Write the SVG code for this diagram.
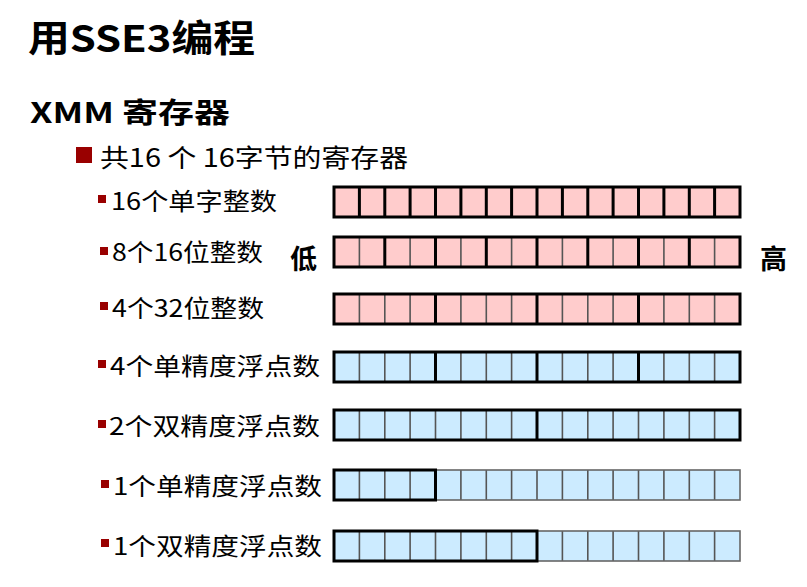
<svg xmlns="http://www.w3.org/2000/svg" xmlns:xlink="http://www.w3.org/1999/xlink" width="807" height="587" viewBox="0 0 807 587">
<style>
text{font-family:"Noto Sans CJK SC","Noto Sans",sans-serif;fill:#000}
.title{font-size:37px;font-weight:bold}
.h2{font-size:28px;font-weight:bold}
.l1{font-size:25px}
.l2{font-size:24px}
.side{font-size:27px;font-weight:bold}
.b{fill:#990000}
.pink{fill:#FFCCCC}
.blue{fill:#CCEBFF}
.thin{stroke:#555;stroke-width:1.6;fill:none}
.thick{stroke:#000;stroke-width:3;fill:none}
.border{stroke:#666;stroke-width:1.6;fill:none}
</style>
<defs>
<path id="thinLines" class="thin" d="M359.4 0v30M384.8 0v30M410.1 0v30M435.5 0v30M460.9 0v30M486.3 0v30M511.6 0v30M537 0v30M562.4 0v30M587.8 0v30M613.1 0v30M638.5 0v30M663.9 0v30M689.3 0v30M714.6 0v30"/>
</defs>
<text class="title" x="28" y="52" textLength="227" lengthAdjust="spacingAndGlyphs">用SSE3编程</text>
<text class="h2" x="30" y="123" textLength="200" lengthAdjust="spacingAndGlyphs">XMM 寄存器</text>
<rect class="b" x="76" y="147" width="16" height="16"/>
<text class="l1" x="100" y="167" textLength="308" lengthAdjust="spacingAndGlyphs">共16 个 16字节的寄存器</text>
<text class="side" x="290" y="269">低</text>
<text class="side" x="760" y="269">高</text>

<g id="row1">
<rect class="b" x="98" y="195" width="8" height="8"/>
<text class="l2" x="111" y="210" textLength="166" lengthAdjust="spacingAndGlyphs">16个单字整数</text>
<rect class="pink" x="334" y="187" width="406" height="30"/>
<path class="thick" transform="translate(0,187)" d="M359.4 0v30M384.8 0v30M410.1 0v30M435.5 0v30M460.9 0v30M486.3 0v30M511.6 0v30M537 0v30M562.4 0v30M587.8 0v30M613.1 0v30M638.5 0v30M663.9 0v30M689.3 0v30M714.6 0v30"/>
<rect class="thick" x="334" y="187" width="406" height="30"/>
</g>

<g id="row2">
<rect class="b" x="100" y="247" width="8" height="8"/>
<text class="l2" x="112" y="261" textLength="151" lengthAdjust="spacingAndGlyphs">8个16位整数</text>
<rect class="pink" x="334" y="237" width="406" height="30"/>
<use xlink:href="#thinLines" href="#thinLines" y="237"/>
<path class="thick" transform="translate(0,237)" d="M384.8 0v30M435.5 0v30M486.3 0v30M537 0v30M587.8 0v30M638.5 0v30M689.3 0v30"/>
<rect class="thick" x="334" y="237" width="406" height="30"/>
</g>

<g id="row3">
<rect class="b" x="100" y="302" width="8" height="8"/>
<text class="l2" x="112" y="317" textLength="152" lengthAdjust="spacingAndGlyphs">4个32位整数</text>
<rect class="pink" x="334" y="294" width="406" height="30"/>
<use xlink:href="#thinLines" href="#thinLines" y="294"/>
<path class="thick" transform="translate(0,294)" d="M435.5 0v30M537 0v30M638.5 0v30"/>
<rect class="thick" x="334" y="294" width="406" height="30"/>
</g>

<g id="row4">
<rect class="b" x="98" y="360" width="8" height="8"/>
<text class="l2" x="110" y="375" textLength="210" lengthAdjust="spacingAndGlyphs">4个单精度浮点数</text>
<rect class="blue" x="334" y="352" width="406" height="30"/>
<use xlink:href="#thinLines" href="#thinLines" y="352"/>
<path class="thick" transform="translate(0,352)" d="M435.5 0v30M537 0v30M638.5 0v30"/>
<rect class="thick" x="334" y="352" width="406" height="30"/>
</g>

<g id="row5">
<rect class="b" x="98" y="420" width="8" height="8"/>
<text class="l2" x="109" y="435" textLength="211" lengthAdjust="spacingAndGlyphs">2个双精度浮点数</text>
<rect class="blue" x="334" y="410" width="406" height="30"/>
<use xlink:href="#thinLines" href="#thinLines" y="410"/>
<path class="thick" transform="translate(0,410)" d="M537 0v30"/>
<rect class="thick" x="334" y="410" width="406" height="30"/>
</g>

<g id="row6">
<rect class="b" x="101" y="480" width="8" height="8"/>
<text class="l2" x="113" y="495" textLength="209" lengthAdjust="spacingAndGlyphs">1个单精度浮点数</text>
<rect class="blue" x="334" y="470" width="406" height="30"/>
<use xlink:href="#thinLines" href="#thinLines" y="470"/>
<rect class="border" x="334" y="470" width="406" height="30"/>
<rect class="thick" x="334" y="470" width="101.5" height="30"/>
</g>

<g id="row7">
<rect class="b" x="101" y="539" width="8" height="8"/>
<text class="l2" x="113" y="555" textLength="209" lengthAdjust="spacingAndGlyphs">1个双精度浮点数</text>
<rect class="blue" x="334" y="531" width="406" height="30"/>
<use xlink:href="#thinLines" href="#thinLines" y="531"/>
<rect class="border" x="334" y="531" width="406" height="30"/>
<rect class="thick" x="334" y="531" width="203" height="30"/>
</g>
</svg>
